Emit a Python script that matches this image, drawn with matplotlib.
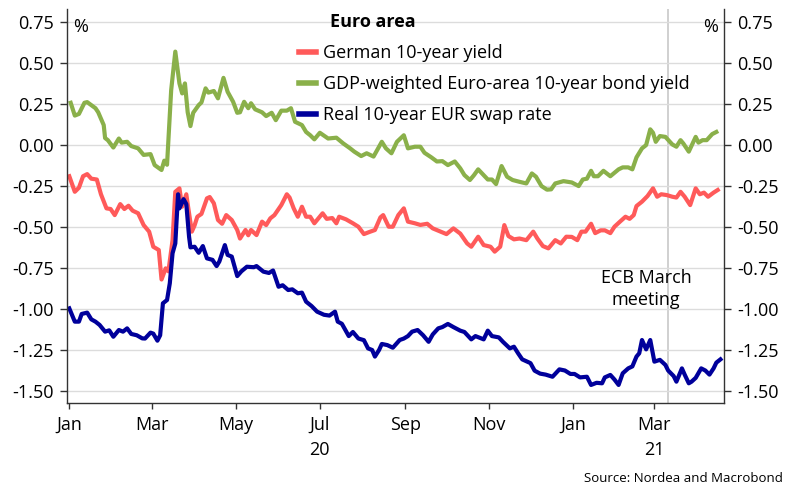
import pandas as pd
import matplotlib.pyplot as plt
import matplotlib.dates as mdates

plt.rcParams['font.family'] = ['Open Sans', 'DejaVu Sans']
plt.rcParams['axes.unicode_minus'] = False

# Values (%), days counted from 1 Jan 2020
german_days = [0, 4, 7, 10, 13, 16, 20, 23, 27, 30, 33, 37, 40, 43, 46, 50, 54, 58, 61, 65,
               67, 70, 72, 75, 77, 80, 82, 85, 86, 89, 91, 93, 96, 100, 102, 105, 108, 111,
               114, 118, 122, 124, 128, 130, 132, 136, 140, 143, 146, 149, 154, 158, 160,
               163, 166, 169, 172, 175, 178, 184, 187, 191, 194, 196, 201, 206, 210, 214,
               218, 222, 226, 228, 232, 235, 239, 243, 246, 251, 255, 260, 264, 268, 274,
               279, 284, 289, 292, 297, 301, 306, 309, 313, 316, 319, 323, 327, 332, 337,
               340, 344, 348, 353, 357, 361, 365, 369, 372, 375, 379, 382, 386, 389, 393,
               396, 400, 404, 407, 410, 412, 416, 420, 424, 427, 430, 434, 438, 441, 444,
               447, 451, 455, 458, 461, 464, 468, 471]
german_yield = [-0.19, -0.285, -0.26, -0.19, -0.177, -0.205, -0.21, -0.30, -0.386, -0.39,
                -0.427, -0.36, -0.39, -0.37, -0.40, -0.416, -0.488, -0.528, -0.62, -0.64,
                -0.82, -0.752, -0.77, -0.58, -0.285, -0.264, -0.376, -0.30, -0.36, -0.528,
                -0.49, -0.437, -0.42, -0.325, -0.317, -0.355, -0.457, -0.48, -0.427, -0.457,
                -0.518, -0.57, -0.518, -0.55, -0.518, -0.549, -0.467, -0.488, -0.447, -0.427,
                -0.366, -0.30, -0.32, -0.386, -0.437, -0.376, -0.437, -0.437, -0.477, -0.416,
                -0.45, -0.445, -0.477, -0.437, -0.453, -0.477, -0.498, -0.543, -0.53, -0.518,
                -0.441, -0.427, -0.498, -0.498, -0.427, -0.386, -0.467, -0.477, -0.487, -0.48,
                -0.508, -0.522, -0.543, -0.508, -0.54, -0.60, -0.62, -0.559, -0.61, -0.62,
                -0.65, -0.62, -0.488, -0.555, -0.575, -0.57, -0.58, -0.528, -0.57, -0.616,
                -0.63, -0.58, -0.60, -0.559, -0.56, -0.58, -0.528, -0.528, -0.48, -0.537,
                -0.52, -0.52, -0.537, -0.498, -0.467, -0.437, -0.45, -0.427, -0.372, -0.345,
                -0.311, -0.264, -0.315, -0.30, -0.305, -0.315, -0.32, -0.285, -0.315, -0.366,
                -0.264, -0.30, -0.29, -0.315, -0.29, -0.274]

gdp_days = [1, 4, 7, 11, 13, 19, 21, 25, 26, 28, 32, 36, 38, 42, 45, 50, 54, 59, 62, 67,
            69, 71, 74, 77, 80, 82, 84, 86, 88, 90, 94, 96, 99, 101, 105, 108, 112, 115,
            119, 122, 124, 127, 130, 132, 135, 140, 143, 147, 150, 154, 158, 161, 164,
            169, 172, 175, 178, 182, 188, 194, 199, 204, 207, 212, 216, 221, 227, 230,
            234, 238, 243, 246, 251, 255, 258, 263, 267, 271, 275, 280, 284, 287, 291,
            294, 297, 301, 304, 307, 310, 314, 318, 322, 327, 332, 336, 339, 343, 347,
            350, 353, 359, 365, 370, 373, 376, 379, 381, 384, 388, 393, 399, 402, 406,
            409, 412, 416, 419, 422, 424, 426, 429, 433, 438, 441, 444, 446, 450, 455,
            457, 460, 463, 467, 470]
gdp_yield = [0.258, 0.18, 0.19, 0.258, 0.262, 0.225, 0.20, 0.122, 0.043, 0.03, -0.015, 0.04,
             0.015, 0.02, -0.006, -0.02, -0.06, -0.055, -0.122, -0.152, -0.095, -0.12, 0.335,
             0.57, 0.376, 0.315, 0.376, 0.20, 0.116, 0.197, 0.244, 0.26, 0.346, 0.32, 0.33,
             0.285, 0.41, 0.325, 0.264, 0.197, 0.20, 0.264, 0.225, 0.255, 0.218, 0.20, 0.177,
             0.197, 0.152, 0.21, 0.21, 0.225, 0.142, 0.122, 0.08, 0.06, 0.035, 0.075, 0.04,
             0.045, 0.01, -0.02, -0.04, -0.067, -0.05, -0.07, 0.02, -0.02, -0.05, 0.02, 0.06,
             -0.02, -0.01, -0.01, -0.047, -0.075, -0.10, -0.098, -0.122, -0.10, -0.142,
             -0.183, -0.213, -0.183, -0.148, -0.183, -0.21, -0.21, -0.238, -0.128, -0.193,
             -0.213, -0.224, -0.234, -0.173, -0.193, -0.25, -0.272, -0.27, -0.234, -0.22,
             -0.228, -0.25, -0.21, -0.205, -0.157, -0.19, -0.19, -0.157, -0.19, -0.148,
             -0.136, -0.136, -0.148, -0.075, -0.02, 0.0, 0.096, 0.075, 0.02, 0.055, 0.05,
             0.004, -0.01, 0.03, 0.01, -0.04, 0.05, 0.015, 0.03, 0.03, 0.067, 0.08]

swap_days = [0, 4, 7, 9, 13, 16, 19, 22, 26, 29, 32, 36, 39, 42, 45, 49, 53, 55, 59, 61,
             64, 66, 68, 71, 73, 75, 77, 79, 80, 83, 85, 87, 88, 91, 94, 97, 100, 104, 107,
             109, 113, 115, 118, 122, 125, 129, 134, 136, 141, 145, 148, 152, 155, 159, 162,
             166, 169, 172, 176, 180, 185, 189, 193, 195, 198, 203, 206, 210, 214, 217, 220,
             222, 225, 227, 231, 235, 240, 243, 246, 249, 253, 257, 261, 264, 268, 271, 275,
             279, 284, 287, 292, 295, 301, 304, 307, 312, 315, 320, 323, 326, 329, 335, 338,
             342, 346, 351, 356, 360, 364, 367, 371, 376, 379, 383, 387, 389, 393, 396, 399,
             402, 406, 409, 412, 414, 416, 419, 422, 425, 429, 433, 435, 439, 441, 445, 447,
             450, 452, 455, 459, 462, 465, 468, 470, 473]
swap_rate = [-0.996, -1.077, -1.077, -1.03, -1.022, -1.063, -1.077, -1.097, -1.138, -1.13,
             -1.169, -1.128, -1.138, -1.118, -1.152, -1.16, -1.179, -1.18, -1.144, -1.15,
             -1.193, -1.16, -0.965, -0.945, -0.843, -0.66, -0.60, -0.30, -0.386, -0.33, -0.36,
             -0.559, -0.624, -0.62, -0.657, -0.616, -0.691, -0.70, -0.738, -0.71, -0.61,
             -0.67, -0.68, -0.799, -0.77, -0.742, -0.745, -0.738, -0.772, -0.78, -0.765,
             -0.864, -0.855, -0.884, -0.88, -0.904, -0.90, -0.955, -0.982, -1.016, -1.035,
             -1.04, -1.016, -1.077, -1.09, -1.165, -1.14, -1.18, -1.19, -1.24, -1.25, -1.29,
             -1.25, -1.213, -1.22, -1.236, -1.189, -1.18, -1.165, -1.138, -1.128, -1.16, -1.20,
             -1.155, -1.118, -1.11, -1.091, -1.11, -1.132, -1.14, -1.185, -1.165, -1.185,
             -1.132, -1.165, -1.173, -1.20, -1.24, -1.23, -1.27, -1.307, -1.33, -1.376, -1.394,
             -1.40, -1.413, -1.368, -1.375, -1.396, -1.396, -1.417, -1.413, -1.463, -1.45,
             -1.453, -1.417, -1.402, -1.43, -1.463, -1.392, -1.362, -1.35, -1.29, -1.27, -1.189,
             -1.246, -1.189, -1.321, -1.31, -1.341, -1.375, -1.409, -1.443, -1.362, -1.40,
             -1.453, -1.443, -1.42, -1.362, -1.375, -1.40, -1.362, -1.327, -1.307]

tick_dates = ['2020-01-01', '2020-03-01', '2020-05-01', '2020-07-01', '2020-09-01',
              '2020-11-01', '2021-01-01', '2021-03-01']
tick_labels = ['Jan', 'Mar', 'May', 'Jul\n20', 'Sep', 'Nov', 'Jan', 'Mar\n21']
ecb_meeting = '2021-03-11'

start = pd.Timestamp('2020-01-01')


def to_dates(days):
    return start + pd.to_timedelta(days, unit='D')


fig = plt.figure(figsize=(7.91, 5.0), dpi=100)
ax = fig.add_axes([0.0843, 0.1934, 0.8314, 0.7886])

ax.plot(to_dates(german_days), german_yield, color='#ff5a5a', lw=3.0,
        label='German 10-year yield')
ax.plot(to_dates(gdp_days), gdp_yield, color='#8ab04a', lw=3.0,
        label='GDP-weighted Euro-area 10-year bond yield')
ax.plot(to_dates(swap_days), swap_rate, color='#00009b', lw=3.0,
        label='Real 10-year EUR swap rate')

ax.axvline(pd.Timestamp(ecb_meeting), color='#c8c8c8', lw=1.2, zorder=0)

ax.set_xlim(start - pd.Timedelta(days=1.9), start + pd.Timedelta(days=475.8))
ax.set_ylim(-1.575, 0.83)
ax.set_yticks([0.75, 0.5, 0.25, 0.0, -0.25, -0.5, -0.75, -1.0, -1.25, -1.5])
ax.yaxis.set_major_formatter(plt.FormatStrFormatter('%.2f'))
ax.grid(axis='y', color='#dcdcdc', lw=1)
ax.set_axisbelow(True)

ax.set_xticks(pd.to_datetime(tick_dates))
ax.set_xticklabels(tick_labels)
for t in ax.get_xticklabels():
    t.set_linespacing(1.5)

ax.tick_params(axis='y', left=True, right=True, labelleft=True, labelright=True,
               labelsize=13, length=5, width=1, color='#333333', pad=4)
ax.tick_params(axis='x', labelsize=13, length=4, width=1, color='#333333', pad=5)
ax.spines['top'].set_visible(False)
for s in ['left', 'right', 'bottom']:
    ax.spines[s].set_color('#333333')
    ax.spines[s].set_linewidth(1)

leg = ax.legend(loc='upper left', bbox_to_anchor=(0.353, 0.91), frameon=False,
                fontsize=13, handlelength=0.95, handletextpad=0.4, labelspacing=0.72,
                borderaxespad=0, borderpad=0)
for line in leg.get_lines():
    line.set_linewidth(4)

fig.text(330 / 791, 1 - 22 / 500, 'Euro area', fontsize=13, fontweight='bold',
         ha='left', va='center')
fig.text(73 / 791, 1 - 27 / 500, '%', fontsize=13, ha='left', va='center')
fig.text(718 / 791, 1 - 27 / 500, '%', fontsize=13, ha='right', va='center')
fig.text(646 / 791, 1 - 289 / 500, 'ECB March\nmeeting', fontsize=13, ha='center',
         va='center', linespacing=1.3)
fig.text(783 / 791, 1 - 478 / 500, 'Source: Nordea and Macrobond', fontsize=9.5,
         ha='right', va='center')

fig.savefig('out.png', dpi=100)
